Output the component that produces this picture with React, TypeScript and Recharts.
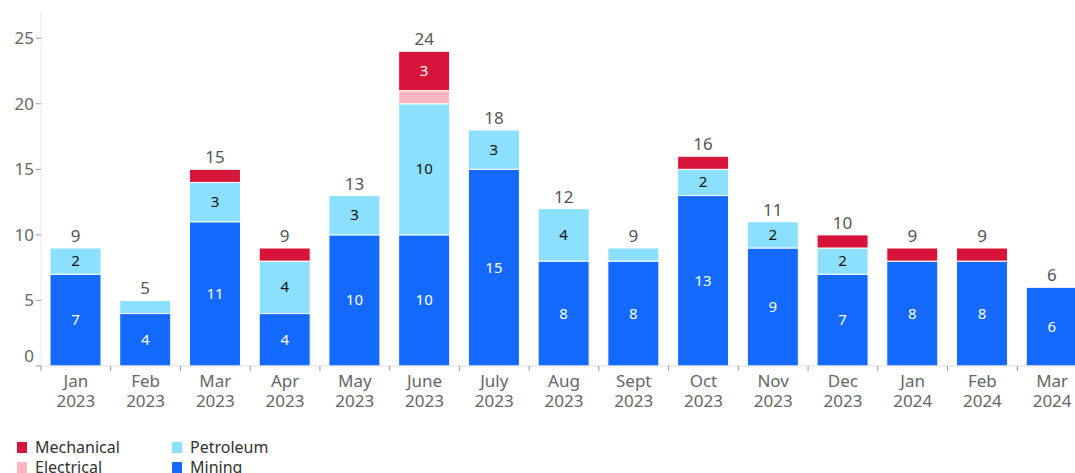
import { BarChart, Bar, XAxis, YAxis, LabelList, Legend } from "recharts";

const months = ["Jan", "Feb", "Mar", "Apr", "May", "June", "July", "Aug", "Sept", "Oct", "Nov", "Dec", "Jan", "Feb", "Mar"];
const years = ["2023", "2023", "2023", "2023", "2023", "2023", "2023", "2023", "2023", "2023", "2023", "2023", "2024", "2024", "2024"];
const mining = [7, 4, 11, 4, 10, 10, 15, 8, 8, 13, 9, 7, 8, 8, 6];
const petroleum = [2, 1, 3, 4, 3, 10, 3, 4, 1, 2, 2, 2, 0, 0, 0];
const electrical = [0, 0, 0, 0, 0, 1, 0, 0, 0, 0, 0, 0, 0, 0, 0];
const mechanical = [0, 0, 1, 1, 0, 3, 0, 0, 0, 1, 0, 1, 1, 1, 0];
const yTicks = [0, 5, 10, 15, 20, 25];

const COLORS = {
  mining: "#1469ff",
  petroleum: "#8ce0ff",
  electrical: "#ffb6c1",
  mechanical: "#d7153a",
};

const FONT = "'Noto Sans', sans-serif";
const CHART_W = 1087;
const Y_W = 41;

const data = months.map((m, i) => ({
  key: `${m}-${years[i]}`,
  month: m,
  year: years[i],
  mining: mining[i],
  petroleum: petroleum[i],
  electrical: electrical[i],
  mechanical: mechanical[i],
  total: mining[i] + petroleum[i] + electrical[i] + mechanical[i],
}));

const BAND = (CHART_W - Y_W) / months.length;

const XTick = (props: any) => {
  const { x, y, index } = props;
  const d = data[index];
  return (
    <g>
      <line x1={x - BAND / 2} x2={x - BAND / 2} y1={y} y2={y + 5} stroke="#999" />
      <text x={x} y={y + 21} textAnchor="middle" fill="#666" fontSize={17} fontFamily={FONT}>
        {d.month}
      </text>
      <text x={x} y={y + 41} textAnchor="middle" fill="#666" fontSize={17} fontFamily={FONT}>
        {d.year}
      </text>
    </g>
  );
};

const YTick = (props: any) => {
  const { x, y, payload } = props;
  // the 0 label is lifted above its tick, like in the source chart
  const shift = payload.value === 0 ? -10 : 0;
  return (
    <text x={x} y={y + shift} dy={6} textAnchor="end" fill="#666" fontSize={17} fontFamily={FONT}>
      {payload.value}
    </text>
  );
};

const segLabel = (color: string) => (props: any) => {
  const { x, y, width, height, value } = props;
  if (!value || value < 2) return null;
  return (
    <text x={x + width / 2} y={y + height / 2} dy={5} textAnchor="middle" fill={color} fontSize={15} fontFamily={FONT}>
      {value}
    </text>
  );
};

// mining is in every bar, so the stack total is drawn from it (scale taken from the bar's own height)
const MiningLabels = (props: any) => {
  const { x, y, width, height, value, index } = props;
  const d = data[index];
  const unit = height / value;
  const top = y + height - d.total * unit;
  return (
    <g>
      {value >= 2 && (
        <text x={x + width / 2} y={y + height / 2} dy={5} textAnchor="middle" fill="#fff" fontSize={15} fontFamily={FONT}>
          {value}
        </text>
      )}
      <text x={x + width / 2} y={top - 6} textAnchor="middle" fill="#555" fontSize={17} fontFamily={FONT}>
        {d.total}
      </text>
    </g>
  );
};

const legendItems = [
  { name: "Mechanical", color: COLORS.mechanical },
  { name: "Electrical", color: COLORS.electrical },
  { name: "Petroleum", color: COLORS.petroleum },
  { name: "Mining", color: COLORS.mining },
];

const LegendBox = () => (
  <div
    style={{
      display: "grid",
      gridTemplateRows: "20px 20px",
      gridAutoFlow: "column",
      gridTemplateColumns: "155px 160px",
      paddingLeft: 17,
      marginTop: -3,
      fontFamily: FONT,
      fontSize: 16,
      color: "#333",
    }}
  >
    {legendItems.map((it) => (
      <div key={it.name} style={{ display: "flex", alignItems: "center", height: 20 }}>
        <span style={{ width: 10, height: 11, background: it.color, marginRight: 8, display: "inline-block" }} />
        <span>{it.name}</span>
      </div>
    ))}
  </div>
);

export default function App() {
  return (
    <div style={{ position: "fixed", left: 0, top: 0, width: 1075, height: 473, overflow: "hidden", background: "#fff" }}>
      <BarChart
        width={CHART_W}
        height={490}
        data={data}
        margin={{ top: 12, right: 0, left: 0, bottom: 0 }}
        barSize={51}
      >
        <XAxis
          dataKey="key"
          interval={0}
          tickLine={false}
          tickSize={0}
          tickMargin={0}
          height={74}
          stroke="#ddd"
          tick={<XTick />}
        />
        <YAxis
          domain={[0, 27]}
          ticks={yTicks}
          width={Y_W}
          stroke="#e8e8e8"
          tickLine={{ stroke: "#999" }}
          tickSize={5}
          tickMargin={2}
          tick={<YTick />}
        />
        <Legend verticalAlign="bottom" align="left" height={50} content={() => <LegendBox />} />
        <Bar dataKey="mining" stackId="a" fill={COLORS.mining} stroke="#fff" strokeWidth={1} isAnimationActive={false}>
          <LabelList dataKey="mining" content={<MiningLabels />} />
        </Bar>
        <Bar dataKey="petroleum" stackId="a" fill={COLORS.petroleum} stroke="#fff" strokeWidth={1} isAnimationActive={false}>
          <LabelList dataKey="petroleum" content={segLabel("#111")} />
        </Bar>
        <Bar dataKey="electrical" stackId="a" fill={COLORS.electrical} stroke="#fff" strokeWidth={1} isAnimationActive={false}>
          <LabelList dataKey="electrical" content={segLabel("#111")} />
        </Bar>
        <Bar dataKey="mechanical" stackId="a" fill={COLORS.mechanical} stroke="#fff" strokeWidth={1} isAnimationActive={false}>
          <LabelList dataKey="mechanical" content={segLabel("#fff")} />
        </Bar>
      </BarChart>
    </div>
  );
}
